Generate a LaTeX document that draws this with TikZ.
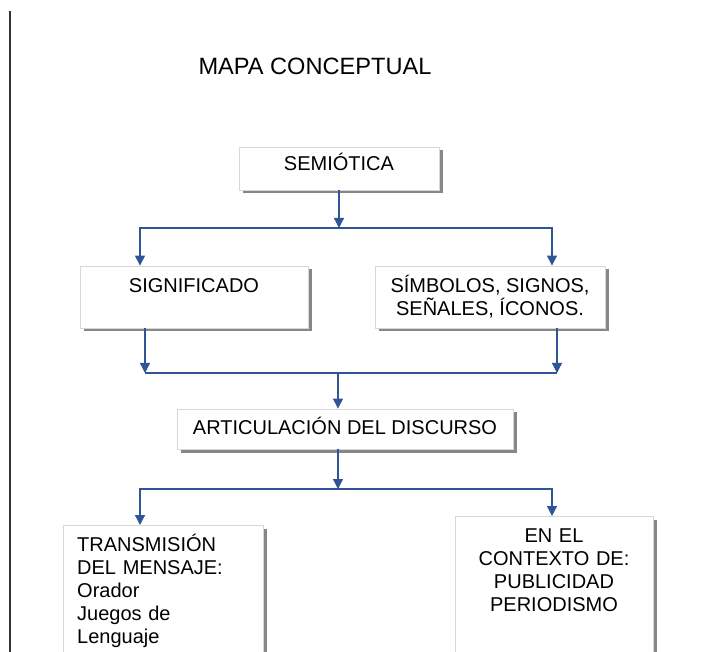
\documentclass[tikz,border=0pt]{standalone}
\usepackage{fontspec}
\setmainfont{Liberation Sans}
\usetikzlibrary{arrows.meta,shadows,positioning}
\definecolor{linkblue}{RGB}{47,85,151}
\definecolor{edgegray}{RGB}{215,215,215}
\definecolor{shadegray}{RGB}{135,135,135}
\tikzstyle{box} = [rectangle, draw=edgegray, line width=0.8pt, fill=white, drop shadow={shadow xshift=3.5pt, shadow yshift=-3.5pt, fill=shadegray, opacity=1}, font=\fontsize{20}{23}\selectfont, align=center]
\tikzstyle{txt} = [inner sep=0pt, font=\fontsize{20}{23}\selectfont]
\tikzstyle{arrow} = [linkblue, line width=1.2pt, -{Triangle[width=10pt,length=10pt]}]
\tikzstyle{line} = [linkblue, line width=1.2pt]

\begin{document}
\begin{tikzpicture}[x=1pt,y=-1pt]
\clip (0,0) rectangle (702,652);
\draw[black!80, line width=1.5pt] (10,11) -- (10,652);
\node (title) [anchor=base, font=\fontsize{23.6}{28}\selectfont] at (315,74.5) {MAPA CONCEPTUAL};
% first level
\node (sem) [box, minimum width=200, minimum height=43, inner ysep=2pt, text depth=14pt] at (339,168.5) {SEMIÓTICA};
\node (sig) [box, minimum width=228, minimum height=62] at (194,297) {SIGNIFICADO\\ \mbox{}};
\node (sim) [box, minimum width=230, minimum height=62] at (490,297) {SÍMBOLOS, SIGNOS,\\ SEÑALES, ÍCONOS.};
\node (art) [box, minimum width=336, minimum height=40, inner ysep=2pt, text depth=7pt] at (345,429) {ARTICULACIÓN DEL DISCURSO};
% bottom boxes run off the page
\node (tra) [box, minimum width=200, minimum height=200, anchor=north west] at (63,525) {};
\node (ctx) [box, minimum width=198, minimum height=200, anchor=north west] at (455,516) {};
\node (tratxt) [txt, anchor=base west, text width=180, align=left] at (77,551) {TRANSMISIÓN\\ DEL MENSAJE:\\ Orador\\ Juegos de\\ Lenguaje};
\node (ctxtxt) [txt, anchor=base, text width=180, align=center] at (554,542) {EN EL\\ CONTEXTO DE:\\ PUBLICIDAD\\ PERIODISMO};
% connectors
\coordinate (j1) at (339,228);
\coordinate (j2) at (145,373);
\coordinate (j3) at (557,373);
\coordinate (j4) at (338,373);
\coordinate (j5) at (338,489);
\coordinate (j6) at (140,489);
\coordinate (j7) at (552,489);
\draw[arrow] (sem.south) -- (j1);
\draw[arrow] (j1) -| (j6 |- sig.north);
\draw[arrow] (j1) -| (j7 |- sim.north);
\draw[arrow] (j2 |- sig.south) -- (j2);
\draw[arrow] (j3 |- sim.south) -- (j3);
\draw[line] (j2) -- (j3);
\draw[arrow] (j4) -- (j4 |- art.north);
\draw[arrow] (j5 |- art.south) -- (j5);
\draw[arrow] (j5) -| (j6 |- tra.north);
\draw[arrow] (j5) -| (j7 |- ctx.north);
\end{tikzpicture}
\end{document}
